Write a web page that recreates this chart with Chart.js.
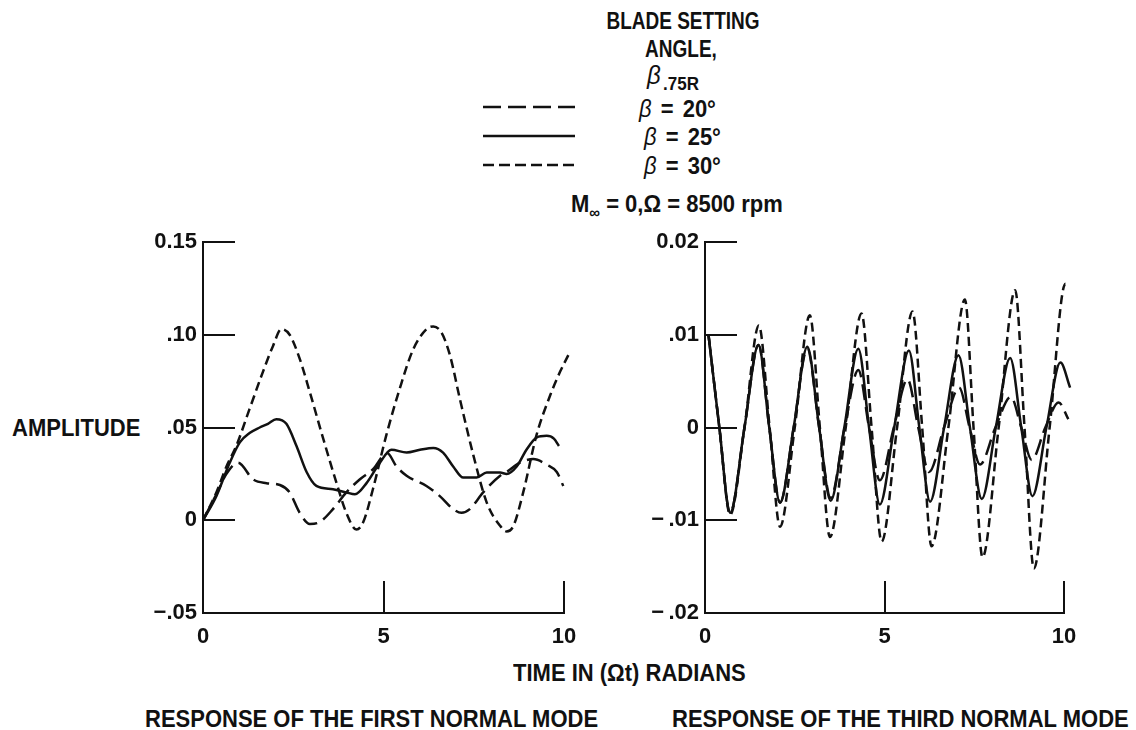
<!DOCTYPE html>
<html>
<head>
<meta charset="utf-8">
<script src="https://cdn.jsdelivr.net/npm/chart.js@4.4.1/dist/chart.umd.min.js"></script>
<style>
  html, body { margin: 0; padding: 0; background: #fff; }
  body { width: 1136px; height: 730px; position: relative; overflow: hidden;
         font-family: "Liberation Sans", Arial, sans-serif; font-weight: bold; color: #111; }
  .t { position: absolute; font-size: 22px; line-height: 22px; white-space: nowrap;
       transform: scaleY(1.08); transform-origin: 50% 50%; }
  canvas { position: absolute; }
  svg { position: absolute; }
</style>
</head>
<body>

<div class="t" style="left:603px; top:11px; width:160px; text-align:center; font-size:19px; transform:scaleY(1.22);">BLADE SETTING</div>
<div class="t" style="left:601px; top:39px; width:160px; text-align:center; font-size:19px; transform:scaleY(1.22);">ANGLE,</div>
<div class="t" style="left:647px; top:64px; font-style:italic; font-size:24px; font-weight:normal;">β</div>
<div class="t" style="left:663px; top:74px; font-size:17px;">.75R</div>

<svg id="leg" width="110" height="80" style="left:478px; top:95px;"></svg>
<div class="t" style="left:639px; top:98px; word-spacing:3px;"><i style="font-weight:normal">β</i> = 20°</div>
<div class="t" style="left:644px; top:126px; word-spacing:3px;"><i style="font-weight:normal">β</i> = 25°</div>
<div class="t" style="left:644px; top:155px; word-spacing:3px;"><i style="font-weight:normal">β</i> = 30°</div>

<div class="t" style="left:571px; top:194px;">M<span style="font-size:15px; position:relative; top:5px;">∞</span> = 0,Ω = 8500&nbsp;rpm</div>

<div class="t" style="left:12px; top:417px;">AMPLITUDE</div>
<div class="t" style="left:513px; top:662px;">TIME IN (Ωt) RADIANS</div>
<div class="t" style="left:145px; top:708px;">RESPONSE OF THE FIRST NORMAL MODE</div>
<div class="t" style="left:672px; top:708px;">RESPONSE OF THE THIRD NORMAL MODE</div>

<canvas id="c1" width="460" height="440" style="left:140px; top:220px;"></canvas>
<canvas id="c2" width="460" height="440" style="left:640px; top:220px;"></canvas>

<script>
// ---------- DATA ----------
const seriesNames = ["β = 20°", "β = 25°", "β = 30°"];

// First normal mode (left panel)
const m1_t20 = [0, 0.37, 0.65, 0.97, 1.39, 1.76, 2.13, 2.40, 2.68, 2.96, 3.23, 3.60, 3.97, 4.34, 4.71, 5.10, 5.36, 5.64, 6.19, 6.56, 6.93, 7.16, 7.39, 7.76, 8.23, 8.41, 8.78, 9.15, 9.52, 9.80, 9.98];
const m1_a20 = [0, 0.014, 0.025, 0.031, 0.022, 0.020, 0.019, 0.015, 0.004, -0.002, -0.001, 0.006, 0.015, 0.022, 0.0275, 0.0362, 0.029, 0.024, 0.0185, 0.013, 0.006, 0.004, 0.006, 0.015, 0.024, 0.026, 0.031, 0.033, 0.030, 0.026, 0.0185];

const m1_t25 = [0, 0.37, 0.74, 1.02, 1.29, 1.57, 1.80, 2.03, 2.31, 2.59, 2.87, 3.14, 3.60, 3.97, 4.21, 4.53, 4.90, 5.22, 5.64, 6.01, 6.38, 6.65, 6.93, 7.21, 7.58, 7.86, 8.23, 8.41, 8.69, 8.96, 9.24, 9.52, 9.72, 9.86];
const m1_a25 = [0, 0.013, 0.031, 0.042, 0.047, 0.050, 0.052, 0.0545, 0.052, 0.040, 0.026, 0.0185, 0.0167, 0.015, 0.014, 0.020, 0.031, 0.038, 0.0365, 0.038, 0.039, 0.0365, 0.029, 0.023, 0.023, 0.0257, 0.0257, 0.025, 0.029, 0.038, 0.0446, 0.0455, 0.044, 0.040];

const m1_t30 = [0, 0.37, 0.65, 0.92, 1.29, 1.66, 1.94, 2.17, 2.40, 2.68, 2.96, 3.33, 3.70, 3.97, 4.25, 4.44, 4.71, 5.08, 5.45, 5.82, 6.19, 6.38, 6.61, 6.84, 7.12, 7.49, 7.86, 8.23, 8.41, 8.60, 8.87, 9.24, 9.61, 9.89, 10.12];
const m1_a30 = [0, 0.015, 0.029, 0.040, 0.060, 0.080, 0.094, 0.103, 0.100, 0.087, 0.069, 0.044, 0.020, 0.004, -0.005, -0.001, 0.017, 0.046, 0.071, 0.092, 0.103, 0.1045, 0.101, 0.089, 0.065, 0.035, 0.0095, -0.003, -0.006, -0.003, 0.015, 0.046, 0.067, 0.080, 0.089];

// Third normal mode (right panel)
const m3_t20 = [0.10, 0.40, 0.70, 1.10, 1.49, 1.79, 2.09, 2.47, 2.85, 3.18, 3.50, 3.89, 4.27, 4.57, 4.87, 5.26, 5.64, 5.94, 6.24, 6.66, 7.08, 7.37, 7.66, 8.09, 8.52, 8.81, 9.10, 9.48, 9.85, 10.12];
const m3_a20 = [0.0099, 0, -0.0092, 0, 0.0089, 0, -0.0081, 0, 0.0085, 0, -0.0076, 0, 0.0062, 0, -0.0057, 0, 0.0052, 0, -0.0048, 0, 0.0043, 0, -0.0040, 0, 0.0033, 0, -0.0035, 0, 0.0027, 0.0009];

const m3_t25 = [0.10, 0.40, 0.70, 1.10, 1.49, 1.79, 2.09, 2.47, 2.85, 3.18, 3.50, 3.88, 4.27, 4.57, 4.87, 5.27, 5.68, 5.97, 6.27, 6.66, 7.06, 7.38, 7.71, 8.10, 8.50, 8.81, 9.12, 9.51, 9.90, 10.17];
const m3_a25 = [0.0099, 0, -0.0092, 0, 0.0089, 0, -0.0081, 0, 0.0087, 0, -0.0079, 0, 0.0085, 0, -0.0083, 0, 0.0083, 0, -0.0080, 0, 0.0078, 0, -0.0077, 0, 0.0075, 0, -0.0074, 0, 0.0070, 0.0043];

const m3_t30 = [0.10, 0.40, 0.70, 1.10, 1.50, 1.80, 2.09, 2.50, 2.92, 3.20, 3.48, 3.92, 4.36, 4.64, 4.92, 5.35, 5.78, 6.05, 6.31, 6.78, 7.24, 7.48, 7.73, 8.18, 8.64, 8.90, 9.16, 9.60, 10.04, 10.15];
const m3_a30 = [0.0099, 0, -0.0094, 0, 0.0110, 0, -0.0107, 0, 0.0121, 0, -0.0118, 0, 0.0123, 0, -0.0123, 0, 0.0125, 0, -0.0128, 0, 0.0138, 0, -0.0140, 0, 0.0148, 0, -0.0152, 0, 0.0155, 0.0125];

// Tick values and labels
const xTickVals = [0, 5, 10];
const xTickLabels = ["0", "5", "10"];
const m1_yTickVals = [-0.05, 0, 0.05, 0.10, 0.15];
const m1_yTickLabels = ["\u2212.05", "0", ".05", ".10", "0.15"];
const m3_yTickVals = [-0.02, -0.01, 0, 0.01, 0.02];
const m3_yTickLabels = ["\u2212\u2009.02", "\u2212\u2009.01", "0", ".01", "0.02"];

// ---------- STYLE ----------
const INK = '#111';
const FONT = { family: '"Liberation Sans", Arial, sans-serif', size: 22, weight: 'bold' };
const dash20 = [16, 7];
const dash30 = [9, 5];

// Legend samples
(function () {
  const svg = document.getElementById('leg');
  const rows = [[12, '18 7'], [41, ''], [70, '11 5']];
  rows.forEach(([y, d]) => {
    const l = document.createElementNS('http://www.w3.org/2000/svg', 'line');
    l.setAttribute('x1', 5); l.setAttribute('x2', 97);
    l.setAttribute('y1', y); l.setAttribute('y2', y);
    l.setAttribute('stroke', INK); l.setAttribute('stroke-width', 2.5);
    if (d) l.setAttribute('stroke-dasharray', d);
    svg.appendChild(l);
  });
})();

const pts = (t, a) => t.map((x, i) => ({ x: x, y: a[i] }));

const insideTicks = {
  id: 'insideTicks',
  afterDatasetsDraw(chart, args, opts) {
    const { ctx, chartArea } = chart;
    const xs = chart.scales.x, ys = chart.scales.y;
    ctx.save();
    ctx.strokeStyle = INK;
    ctx.lineWidth = 2;
    ctx.beginPath();
    opts.yVals.forEach(v => {
      const py = Math.round(ys.getPixelForValue(v));
      if (v === opts.yVals[0]) return;
      ctx.moveTo(chartArea.left, py);
      ctx.lineTo(chartArea.left + 32, py);
    });
    opts.xVals.forEach(v => {
      if (v === opts.xVals[0]) return;
      const px = Math.round(xs.getPixelForValue(v));
      ctx.moveTo(px, chartArea.bottom);
      ctx.lineTo(px, chartArea.bottom - 32);
    });
    ctx.stroke();
    ctx.restore();
  }
};

function makeChart(id, sets, yVals, yLabels, yAxisW) {
  const ds = [
    { label: seriesNames[0], data: pts(sets[0][0], sets[0][1]), borderDash: dash20 },
    { label: seriesNames[1], data: pts(sets[1][0], sets[1][1]), borderDash: [] },
    { label: seriesNames[2], data: pts(sets[2][0], sets[2][1]), borderDash: dash30 }
  ].map(d => Object.assign(d, {
    borderColor: INK, borderWidth: 2.5, pointRadius: 0, fill: false,
    cubicInterpolationMode: 'monotone', clip: false
  }));
  return new Chart(document.getElementById(id), {
    type: 'line',
    data: { datasets: ds },
    plugins: [insideTicks],
    options: {
      responsive: false, animation: false, events: [],
      layout: { padding: { top: 22, right: 36, bottom: 0, left: 0 } },
      plugins: {
        legend: { display: false }, tooltip: { enabled: false },
        insideTicks: { xVals: xTickVals, yVals: yVals }
      },
      scales: {
        x: {
          type: 'linear', min: 0, max: 10,
          grid: { display: false, drawTicks: false },
          border: { display: true, color: INK, width: 2 },
          afterBuildTicks: s => { s.ticks = xTickVals.map(v => ({ value: v })); },
          afterFit: s => { s.height = 47; },
          ticks: { color: INK, font: FONT, padding: 11, maxRotation: 0,
                   callback: (v, i) => xTickLabels[i] }
        },
        y: {
          type: 'linear', min: yVals[0], max: yVals[yVals.length - 1],
          grid: { display: false, drawTicks: false },
          border: { display: true, color: INK, width: 2 },
          afterBuildTicks: s => { s.ticks = yVals.map(v => ({ value: v })); },
          afterFit: s => { s.width = yAxisW; },
          ticks: { color: INK, font: FONT, padding: 6,
                   callback: (v, i) => yLabels[i] }
        }
      }
    }
  });
}

makeChart('c1', [[m1_t20, m1_a20], [m1_t25, m1_a25], [m1_t30, m1_a30]], m1_yTickVals, m1_yTickLabels, 63);
makeChart('c2', [[m3_t20, m3_a20], [m3_t25, m3_a25], [m3_t30, m3_a30]], m3_yTickVals, m3_yTickLabels, 65);
</script>
</body>
</html>
